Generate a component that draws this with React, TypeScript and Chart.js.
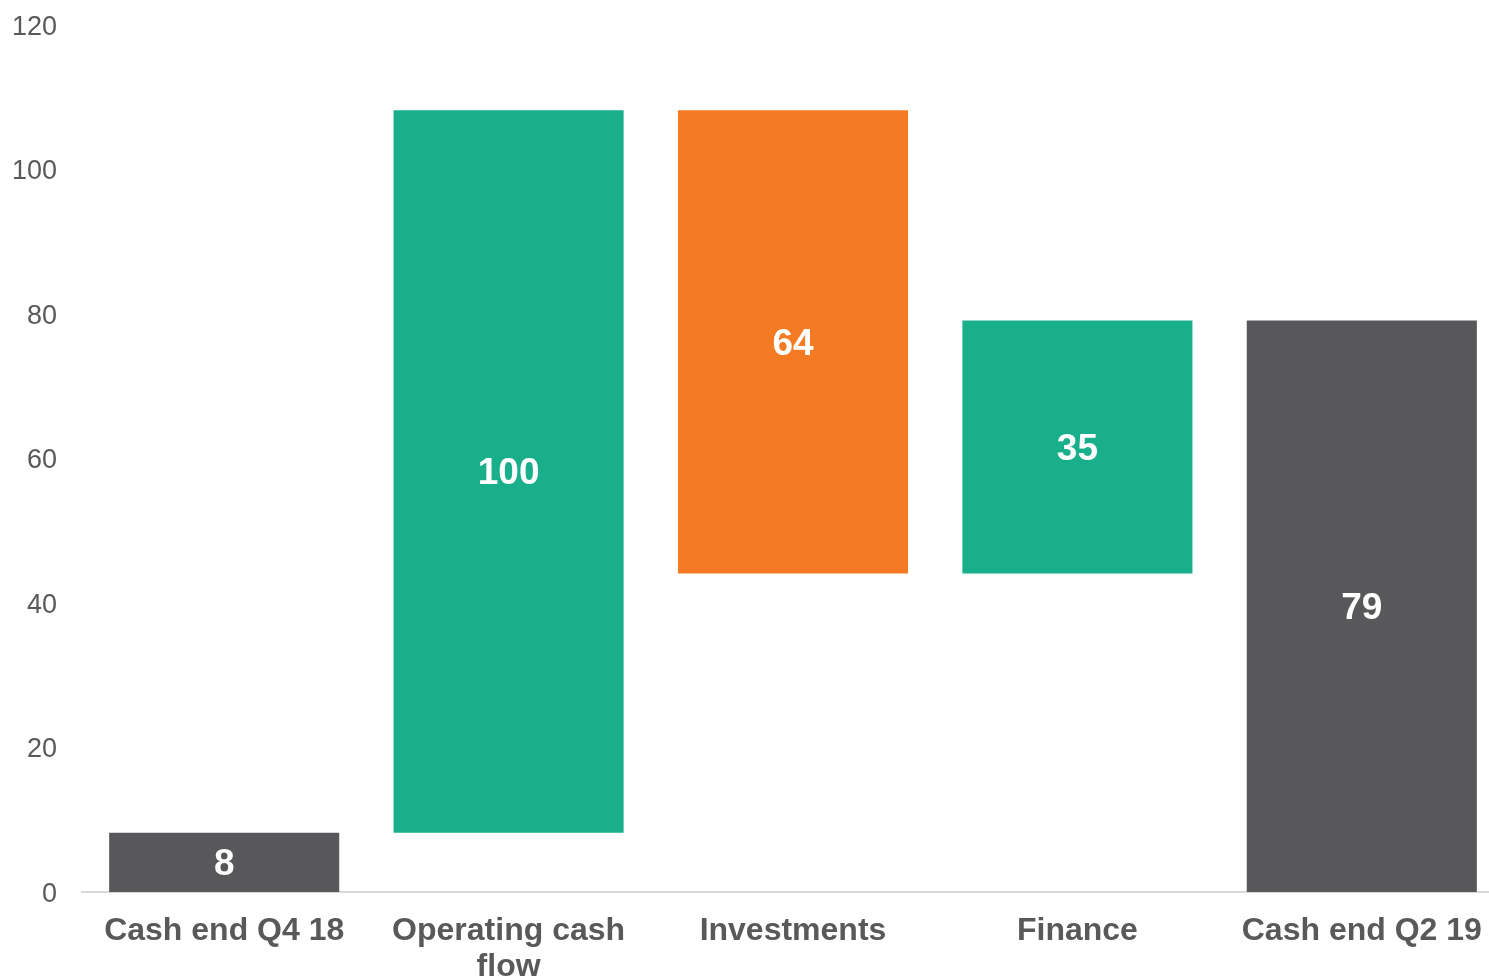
import React, { useEffect, useRef } from "react";
import { Chart, registerables } from "chart.js";

Chart.register(...registerables);

const categories: (string | string[])[] = [
  "Cash end Q4 18",
  ["Operating cash", "flow"],
  "Investments",
  "Finance",
  "Cash end Q2 19",
];
const changes = [8.2, 100, -64.1, 35, 79.1];
const isTotal = [true, false, false, false, true];
const barColors = ["#58585A", "#19AF8A", "#F47A24", "#19AF8A", "#58585A"];
const valueLabels = ["8", "100", "64", "35", "79"];
const yTicks = [0, 20, 40, 60, 80, 100, 120];

const FONT = "'Liberation Sans', Arial, Helvetica, sans-serif";

function buildRanges(): [number, number][] {
  let running = 0;
  return changes.map((v, i) => {
    if (isTotal[i]) {
      running = v;
      return [0, v];
    }
    const start = running;
    running = running + v;
    return [start, running];
  });
}

const labelPlugin = {
  id: "barLabels",
  afterDatasetsDraw(chart: any) {
    const ctx = chart.ctx;
    const meta = chart.getDatasetMeta(0);
    ctx.save();
    ctx.fillStyle = "#FFFFFF";
    ctx.font = `bold 37px ${FONT}`;
    ctx.textAlign = "center";
    ctx.textBaseline = "middle";
    meta.data.forEach((el: any, i: number) => {
      const cy = (el.y + el.base) / 2;
      ctx.fillText(valueLabels[i], el.x, cy + 2.5);
    });
    ctx.restore();
  },
};

export default function App() {
  const ref = useRef<HTMLCanvasElement | null>(null);
  useEffect(() => {
    if (!ref.current) return;
    const chart = new Chart(ref.current, {
      type: "bar",
      data: {
        labels: categories as any,
        datasets: [
          {
            data: buildRanges() as any,
            backgroundColor: barColors,
            borderWidth: 0,
            barPercentage: 0.809,
            categoryPercentage: 1,
          },
        ],
      },
      options: {
        responsive: false,
        animation: false,
        layout: { padding: { top: 25, left: 0, right: 0, bottom: 0 } },
        plugins: {
          legend: { display: false },
          tooltip: { enabled: false },
        },
        scales: {
          x: {
            grid: { display: false, drawTicks: false },
            border: { display: true, color: "#D9D9D9", width: 2 },
            ticks: {
              color: "#595959",
              padding: 21,
              maxRotation: 0,
              autoSkip: false,
              font: { family: FONT, size: 32, weight: "bold", lineHeight: 1.13 },
            },
            afterFit(scale: any) {
              scale.height = 118;
            },
          },
          y: {
            min: 0,
            max: 120,
            afterBuildTicks(scale: any) {
              scale.ticks = yTicks.map((v) => ({ value: v }));
            },
            grid: { display: false, drawTicks: false },
            border: { display: false },
            ticks: {
              color: "#595959",
              padding: 25,
              labelOffset: 2.5,
              font: { family: FONT, size: 27 },
            },
            afterFit(scale: any) {
              scale.width = 82;
              scale.paddingTop = 0;
              scale.paddingBottom = 0;
            },
          },
        },
      },
      plugins: [labelPlugin],
    });
    return () => chart.destroy();
  }, []);
  return (
    <div
      style={{
        position: "absolute",
        left: 0,
        top: 0,
        width: 1489,
        height: 979,
        overflow: "hidden",
        background: "#FFFFFF",
      }}
    >
      <canvas ref={ref} width={1504} height={1010} style={{ display: "block" }} />
    </div>
  );
}
